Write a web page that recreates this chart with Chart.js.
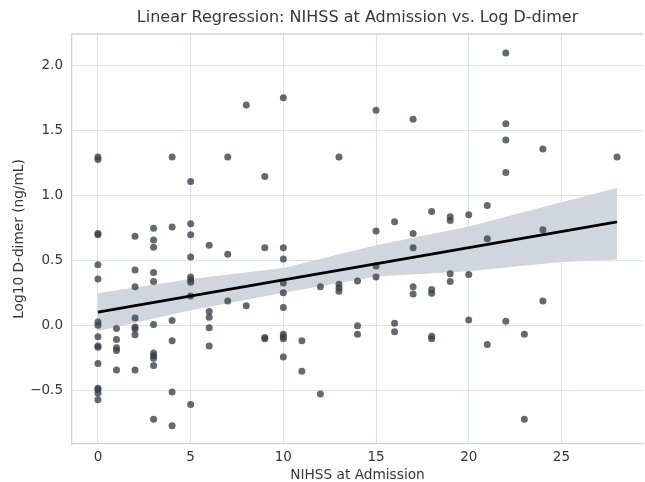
<!DOCTYPE html>
<html>
<head>
<meta charset="utf-8">
<script src="https://cdn.jsdelivr.net/npm/chart.js@4.4.1/dist/chart.umd.min.js"></script>
<style>
  html, body { margin: 0; padding: 0; background: #fff; overflow: hidden; }
  #wrap { width: 647px; height: 482px; }
</style>
</head>
<body>
<div id="wrap"><canvas id="regChart" width="647" height="482"></canvas></div>
<script>
// Data (one NIHSS score per patient)
const nihss = [
  0,0,0,0,0,0,0,0,0,0,0,0,0,0,0,0,
  1,1,1,1,1,
  2,2,2,2,2,2,2,2,
  3,3,3,3,3,3,3,3,3,3,3,
  4,4,4,4,4,4,
  5,5,5,5,5,5,5,5,5,
  6,6,6,6,6,
  7,7,7,
  8,8,
  9,9,9,9,
  10,10,10,10,10,10,10,10,10,10,
  11,11,
  12,12,
  13,13,13,13,
  14,14,14,
  15,15,15,15,
  16,16,16,
  17,17,17,17,17,
  18,18,18,18,18,
  19,19,19,19,
  20,20,20,
  21,21,21,
  22,22,22,22,22,
  23,23,
  24,24,24,
  28
];
const logDdimer = [
  1.30, 1.28, 0.71, 0.70, 0.47, 0.36, 0.03, 0.005, -0.085, -0.155, -0.165, -0.29, -0.48, -0.49, -0.52, -0.57,
  -0.02, -0.105, -0.17, -0.19, -0.34,
  0.69, 0.43, 0.30, 0.06, -0.01, -0.025, -0.07, -0.34,
  0.75, 0.66, 0.605, 0.41, 0.34, 0.01, -0.21, -0.23, -0.25, -0.305, -0.72,
  1.30, 0.76, 0.04, -0.115, -0.51, -0.77,
  1.11, 0.785, 0.70, 0.53, 0.375, 0.355, 0.335, 0.23, -0.605,
  0.62, 0.11, 0.065, -0.015, -0.155,
  1.30, 0.55, 0.19,
  1.70, 0.155,
  1.15, 0.60, -0.09, -0.10,
  1.755, 0.60, 0.515, 0.33, 0.255, 0.14, -0.065, -0.085, -0.10, -0.24,
  -0.115, -0.35,
  0.30, -0.525,
  1.30, 0.32, 0.29, 0.265,
  0.345, 0.0, -0.065,
  1.66, 0.73, 0.46, 0.375,
  0.80, 0.02, -0.045,
  1.59, 0.71, 0.60, 0.30, 0.245,
  0.88, 0.28, 0.25, -0.08, -0.10,
  0.84, 0.81, 0.40, 0.34,
  0.855, 0.395, 0.045,
  0.925, 0.67, -0.145,
  2.10, 1.555, 1.43, 1.18, 0.035,
  -0.065, -0.72,
  1.36, 0.74, 0.19,
  1.30
];

// Fitted line and 95% CI band
const fitX = [0, 28];
const fitY = [0.105, 0.80];
const bandX = [0, 5, 10, 15, 20, 25, 28];
const bandUpper = [0.25, 0.36, 0.445, 0.62, 0.765, 0.95, 1.06];
const bandLower = [-0.04, 0.12, 0.255, 0.38, 0.42, 0.49, 0.51];

const xTicks = [0, 5, 10, 15, 20, 25];
const yTicks = [-0.5, 0, 0.5, 1.0, 1.5, 2.0];

const textColor = '#363636';
const gridColor = '#dce1ea';
const spineColor = '#cfd5df';
const fontFamily = "'DejaVu Sans', sans-serif";

function toPoints(xs, ys) {
    return xs.map((x, i) => ({ x: x, y: ys[i] }));
}

// top spine (matplotlib style frame)
const framePlugin = {
    id: 'frame',
    afterDraw(chart) {
        const { ctx, chartArea } = chart;
        ctx.save();
        ctx.strokeStyle = spineColor;
        ctx.lineWidth = 1.3;
        ctx.beginPath();
        ctx.moveTo(chartArea.left, chartArea.top);
        ctx.lineTo(chartArea.right, chartArea.top);
        ctx.stroke();
        ctx.restore();
    }
};

new Chart(document.getElementById('regChart'), {
    type: 'scatter',
    data: {
        datasets: [
            {
                label: 'fit',
                type: 'line',
                data: toPoints(fitX, fitY),
                borderColor: '#000',
                borderWidth: 2.7,
                pointRadius: 0,
                fill: false,
                order: 0
            },
            {
                label: 'patients',
                data: toPoints(nihss, logDdimer),
                backgroundColor: 'rgba(58, 63, 71, 0.78)',
                borderWidth: 0,
                pointRadius: 3.5,
                order: 1
            },
            {
                label: 'ciUpper',
                type: 'line',
                data: toPoints(bandX, bandUpper),
                borderWidth: 0,
                borderColor: 'rgba(0,0,0,0)',
                backgroundColor: '#d0d5de',
                pointRadius: 0,
                fill: '+1',
                order: 2
            },
            {
                label: 'ciLower',
                type: 'line',
                data: toPoints(bandX, bandLower),
                borderWidth: 0,
                borderColor: 'rgba(0,0,0,0)',
                pointRadius: 0,
                fill: false,
                order: 3
            }
        ]
    },
    options: {
        responsive: false,
        animation: false,
        devicePixelRatio: 1,
        layout: { padding: 0 },
        plugins: {
            legend: { display: false },
            tooltip: { enabled: false },
            title: {
                display: true,
                fullSize: false,
                text: 'Linear Regression: NIHSS at Admission vs. Log D-dimer',
                color: textColor,
                font: { family: fontFamily, size: 16, weight: 'normal' },
                padding: { top: 8, bottom: 6.8 }
            }
        },
        scales: {
            x: {
                type: 'linear',
                min: -1.4,
                max: 29.4,
                afterBuildTicks: (scale) => { scale.ticks = xTicks.map(v => ({ value: v })); },
                afterFit: (scale) => { scale.height = 38; },
                grid: { color: gridColor, lineWidth: 1, drawTicks: false },
                border: { color: spineColor, width: 1.3 },
                ticks: {
                    color: textColor,
                    padding: 5,
                    font: { family: fontFamily, size: 13.5 },
                    callback: (v) => String(v)
                },
                title: {
                    display: true,
                    text: 'NIHSS at Admission',
                    color: textColor,
                    font: { family: fontFamily, size: 13.7 },
                    padding: { top: 0, bottom: -2 }
                }
            },
            y: {
                type: 'linear',
                min: -0.91,
                max: 2.246,
                afterBuildTicks: (scale) => { scale.ticks = yTicks.map(v => ({ value: v })); },
                afterFit: (scale) => { scale.width = 72; },
                grid: { color: gridColor, lineWidth: 1, drawTicks: false },
                border: { color: spineColor, width: 1.3 },
                ticks: {
                    color: textColor,
                    padding: 9,
                    font: { family: fontFamily, size: 13.5 },
                    callback: (v) => (v < 0 ? '\u2212' : '') + Math.abs(v).toFixed(1)
                },
                title: {
                    display: true,
                    text: 'Log10 D-dimer (ng/mL)',
                    color: textColor,
                    font: { family: fontFamily, size: 13.7 },
                    padding: { top: 10.8, bottom: 0 }
                }
            }
        }
    },
    plugins: [framePlugin]
});
</script>
</body>
</html>
